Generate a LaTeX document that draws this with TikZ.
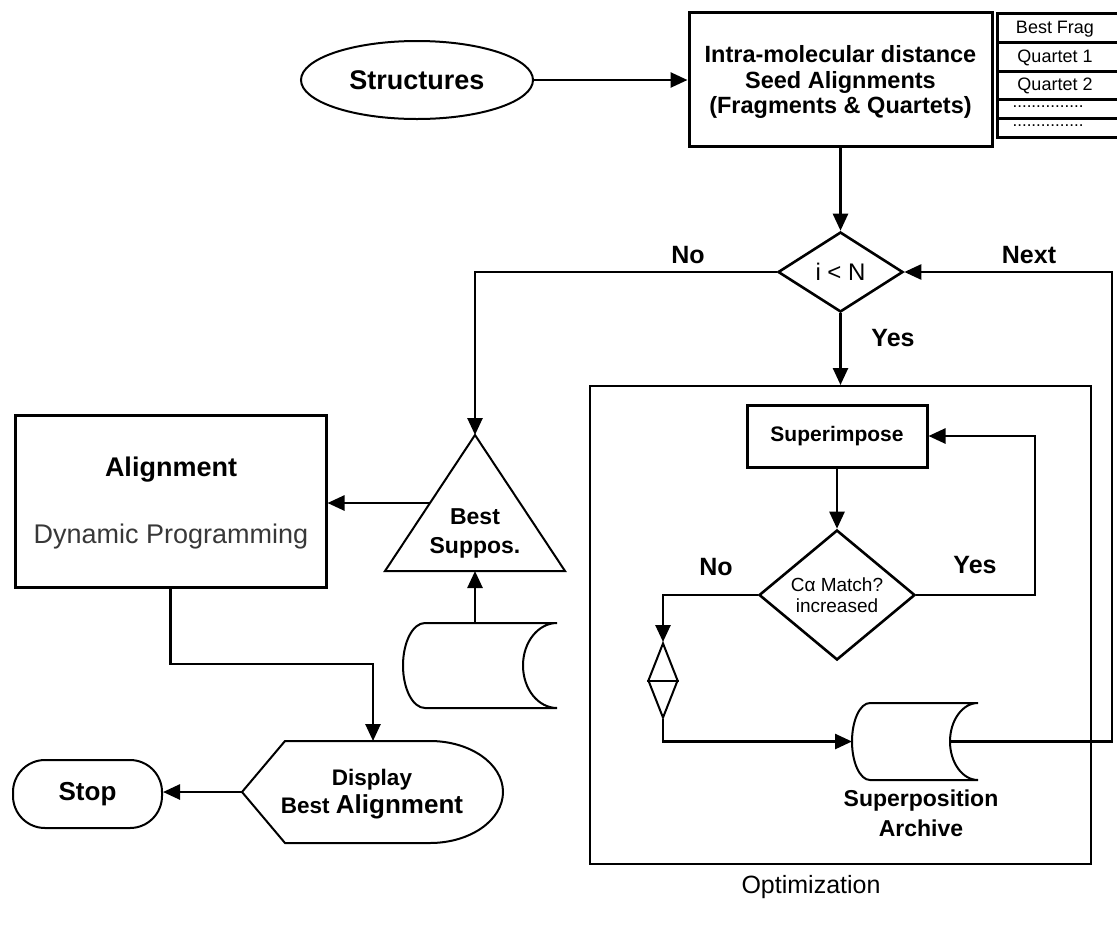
\documentclass[tikz,border=0pt]{standalone}
\usepackage{fontspec}
\setmainfont{Liberation Sans}
\usetikzlibrary{shapes.geometric,arrows.meta,calc}
\definecolor{dpgray}{gray}{0.22}
\begin{document}
\begin{tikzpicture}[x=1pt,y=-1pt,
  line width=2.6pt,
  arr/.style={-{Triangle[length=17pt,width=15pt]}},
  box/.style={draw, line width=3pt, inner sep=0pt},
  thin/.style={line width=2pt},
  lbl/.style={font=\fontsize{25}{28}\selectfont\bfseries},
]
\useasboundingbox (0,0) rectangle (1117,927);

% Structures
\node[draw, ellipse, thin, minimum width=232pt, minimum height=78pt, inner sep=0pt,
      font=\fontsize{27}{30}\selectfont\bfseries] (struct) at (417,80) {Structures};

% Seed box
\node[box, minimum width=303pt, minimum height=134pt] (seed) at (840.5,79) {};
\node[align=center, font=\fontsize{23.5}{25.5}\selectfont\bfseries] (seedtxt) at (840.5,82)
      {Intra-molecular distance\\Seed Alignments\\(Fragments \& Quartets)};

% table
\draw[line width=3pt] (1117,13) -- (997,13) -- (997,137) -- (1117,137);
\foreach \yy in {42,71,99,118} \draw[line width=3pt] (997,\yy) -- (1117,\yy);
\node[font=\fontsize{18}{20}\selectfont] (t1) at (1055,29) {Best Frag};
\node[font=\fontsize{18}{20}\selectfont] (t2) at (1055,58) {Quartet 1};
\node[font=\fontsize{18}{20}\selectfont] (t3) at (1055,86) {Quartet 2};
\node[font=\fontsize{17}{18}\selectfont] (t4) at (1048,107) {...............};
\node[font=\fontsize{17}{18}\selectfont] (t5) at (1048,126) {...............};

\draw[arr] (struct.east) -- (seed.west |- struct.east);

% decision i<N
\node[draw, diamond, minimum width=125pt, minimum height=80pt, inner sep=0pt,
      font=\fontsize{24}{26}\selectfont] (d1) at (840.5,272) {i < N};
\draw[arr] (seed.south) -- (d1.north);

% optimization frame
\node[draw, thin, minimum width=501pt, minimum height=478pt, inner sep=0pt] (opt) at (840.5,625) {};
\node[font=\fontsize{25}{28}\selectfont] (optlbl) at (811,887) {Optimization};
\draw[arr] (d1.south) -- (opt.north);

\node[lbl] (yes1) at (893,338) {Yes};
\node[lbl] (no1) at (688,255) {No};
\node[lbl] (next) at (1029,255) {Next};

% superimpose
\node[box, minimum width=180pt, minimum height=62pt,
      font=\fontsize{21}{24}\selectfont\bfseries] (sup) at (837,436) {Superimpose};

% decision Ca
\node[draw, diamond, minimum width=156pt, minimum height=130pt, inner sep=0pt, align=center,
      font=\fontsize{19}{21}\selectfont] (d2) at (837,595) {Cα Match?\\increased};
\draw[arr] (sup.south) -- (d2.north);
\coordinate (yesc) at (1035,595);
\draw[arr] (d2.east) -- (yesc) |- (sup.east);
\node[lbl] (yes2) at (975,565) {Yes};
\node[lbl] (no2) at (716,567) {No};

% small sort diamond
\node[draw, diamond, thin, minimum width=30pt, minimum height=75pt, inner sep=0pt] (sd) at (663,680.5) {};
\draw[thin] (sd.west) -- (sd.east);
\draw[arr] (d2.west) -| (sd.north);

% archive
\draw[thin] (870,703) -- (978,703) arc[start angle=270, end angle=90, x radius=28, y radius=38.5]
  -- (870,780) arc[start angle=90, end angle=270, x radius=18, y radius=38.5] -- cycle;
\coordinate (archL) at (852,741.5);
\coordinate (archR) at (950,741.5);
\coordinate (sdc) at (663,741.5);
\draw[arr] (sd.south) -- (sdc) -- (archL);
\node[align=center, font=\fontsize{23}{30}\selectfont\bfseries] (archlbl) at (921,813) {Superposition\\Archive};
\coordinate (nextc) at (1112,272);
\draw[arr] (archR) -| (nextc) -- (d1.east);

% triangle Best Suppos.
\coordinate (triA) at (475,435);
\coordinate (triL) at (385,571);
\coordinate (triR) at (565,571);
\coordinate (triB) at (475,571);
\coordinate (triS) at (430,503);
\draw[thin] (triA) -- (triR) -- (triL) -- cycle;
\node[align=center, font=\fontsize{23}{29}\selectfont\bfseries] (bs) at (475,533) {Best\\Suppos.};
\draw[arr] (d1.west) -| (triA);

% left stored data
\draw[thin] (425,623) -- (557,623) arc[start angle=270, end angle=90, x radius=34, y radius=42.5]
  -- (425,708) arc[start angle=90, end angle=270, x radius=22, y radius=42.5] -- cycle;
\coordinate (cylT) at (475,623);
\draw[arr] (cylT) -- (triB);

% alignment box
\node[box, minimum width=311pt, minimum height=172pt] (align) at (170.5,501) {};
\node[font=\fontsize{27}{30}\selectfont\bfseries] (altxt) at (171,470) {Alignment};
\node[font=\fontsize{27}{30}\selectfont, text=dpgray] (dptxt) at (171,537) {Dynamic Programming};
\draw[arr] (triS) -- (triS -| align.east);

% display
\draw[thin] (242,792) -- (285,741) -- (430,741) arc[start angle=270, end angle=450, x radius=73, y radius=51]
  -- (285,843) -- cycle;
\coordinate (dispT) at (373,741);
\coordinate (dispL) at (242,792);
\coordinate (bend) at (373,664);
\node[align=center, font=\fontsize{22.5}{28}\selectfont\bfseries] (disptxt) at (372,794)
  {Display\\Best {\fontsize{26}{28}\selectfont Alignment}};
\draw[arr] (align.south) |- (bend) -- (dispT);

% stop
\node[draw, thin, rounded corners=32pt, minimum width=149pt, minimum height=68pt, inner sep=0pt,
      font=\fontsize{26}{28}\selectfont\bfseries] (stop) at (87.5,794) {Stop};
\draw[arr] (dispL) -- (dispL -| stop.east);
\end{tikzpicture}
\end{document}
